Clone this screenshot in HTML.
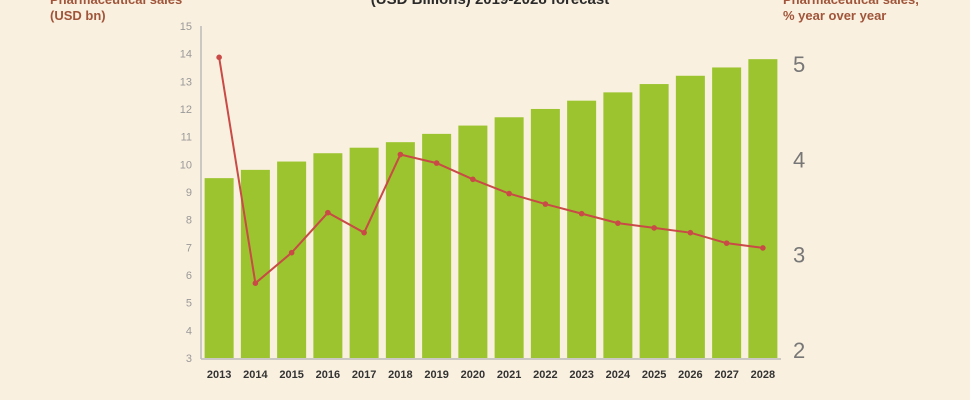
<!DOCTYPE html>
<html><head><meta charset="utf-8"><style>
html,body{margin:0;padding:0;background:#faf0df;}
svg{display:block;font-family:"Liberation Sans",sans-serif;}
</style></head><body>
<svg width="970" height="400" viewBox="0 0 970 400">
<rect width="970" height="400" fill="#faf0df"/>
<text x="490" y="4" text-anchor="middle" font-size="15" font-weight="bold" fill="#2a2a2a">(USD Billions) 2019-2028 forecast</text>
<text x="50" y="4" font-size="13" font-weight="bold" fill="#a0553a">Pharmaceutical sales</text>
<text x="50" y="20" font-size="13" font-weight="bold" fill="#a0553a">(USD bn)</text>
<text x="783" y="4" font-size="13" font-weight="bold" fill="#a0553a">Pharmaceutical sales,</text>
<text x="783" y="20" font-size="13" font-weight="bold" fill="#a0553a">% year over year</text>
<g id="plot"></g>
</svg>
<script>
const years=[2013,2014,2015,2016,2017,2018,2019,2020,2021,2022,2023,2024,2025,2026,2027,2028];
const sales=[9.5,9.8,10.1,10.4,10.6,10.8,11.1,11.4,11.7,12.0,12.3,12.6,12.9,13.2,13.5,13.8];
const growth=[5.07,2.70,3.02,3.44,3.23,4.05,3.96,3.79,3.64,3.53,3.43,3.33,3.28,3.23,3.12,3.07];
const leftTicks=[3,4,5,6,7,8,9,10,11,12,13,14,15];
const rightTicks=[2,3,4,5];
const NS="http://www.w3.org/2000/svg";
const g=document.getElementById('plot');
const x0=201,band=36.25,yBase=358;
const yL=v=>358-(v-3)*27.67;
const yR=v=>64+(5-v)*95.3;
const xc=i=>x0+band*i+band/2;
function mk(t,a){const e=document.createElementNS(NS,t);for(const k in a)e.setAttribute(k,a[k]);g.appendChild(e);return e;}
leftTicks.forEach(v=>{const t=mk('text',{x:192,y:yL(v)+4,'text-anchor':'end','font-size':11,fill:'#999'});t.textContent=v;

});
rightTicks.forEach(v=>{const t=mk('text',{x:793,y:yR(v)+8,'font-size':22,fill:'#777'});t.textContent=v;

});
years.forEach((yr,i)=>{const b=mk('rect',{x:xc(i)-14.5,y:yL(sales[i]),width:29,height:yBase-yL(sales[i]),fill:'#9bc42e'});


const t=mk('text',{x:xc(i),y:378,'text-anchor':'middle','font-size':11,'font-weight':'bold',fill:'#333'});t.textContent=yr;

});
const la=mk('line',{x1:x0,y1:26,x2:x0,y2:359,stroke:'#bbb','stroke-width':1.5});


const ba=mk('line',{x1:x0,y1:359,x2:x0+band*16,y2:359,stroke:'#bbb','stroke-width':1.5});


const pl=mk('polyline',{points:growth.map((v,i)=>xc(i)+','+yR(v)).join(' '),fill:'none',stroke:'#c94a46','stroke-width':2});


growth.forEach((v,i)=>{const c=mk('circle',{cx:xc(i),cy:yR(v),r:2.8,fill:'#c94a46'});

});
</script>
</body></html>
